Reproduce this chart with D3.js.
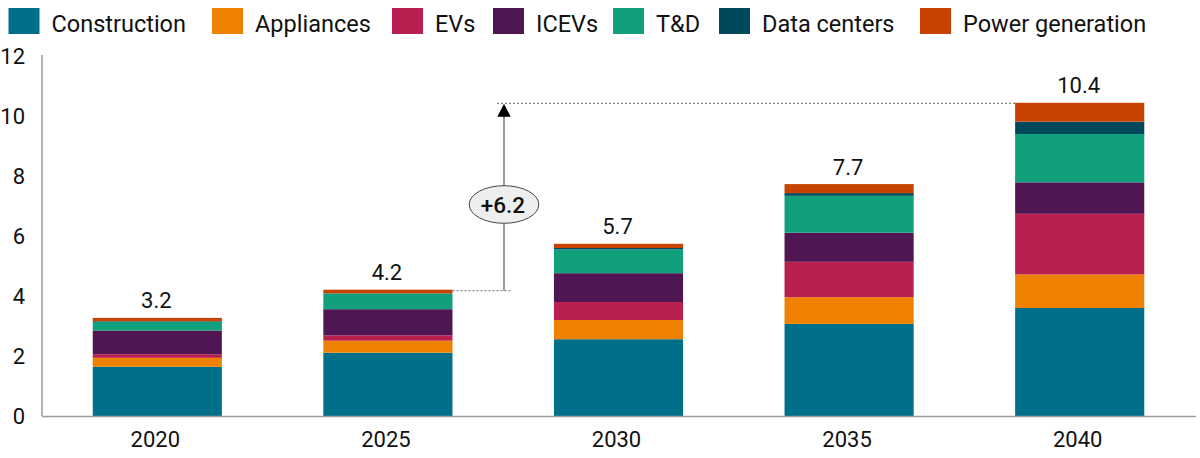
<!DOCTYPE html>
<html><head><meta charset="utf-8">
<script src="https://cdn.jsdelivr.net/npm/d3@7"></script>
<style>
html,body{margin:0;padding:0;background:#fff;}
svg{display:block;font-family:Roboto,"Liberation Sans",sans-serif;}
</style></head>
<body>
<svg id="chart" width="1200" height="458"></svg>
<script>
const years = ["2020","2025","2030","2035","2040"];
const seriesNames = ["Construction","Appliances","EVs","ICEVs","T&D","Data centers","Power generation"];
const seriesColors = ["#00708a","#ee8200","#b92050","#501654","#10a07b","#00495d","#c84300"];
const construction = [1.64, 2.11, 2.56, 3.07, 3.60];
const appliances   = [0.30, 0.40, 0.64, 0.89, 1.12];
const evs          = [0.12, 0.18, 0.60, 1.18, 2.02];
const icevs        = [0.79, 0.87, 0.96, 0.97, 1.05];
const td           = [0.29, 0.52, 0.79, 1.23, 1.61];
const dataCenters  = [0.02, 0.01, 0.05, 0.09, 0.41];
const powerGen     = [0.11, 0.12, 0.14, 0.30, 0.63];
const totalLabels  = ["3.2","4.2","5.7","7.7","10.4"];
const yTicks = [0,2,4,6,8,10,12];
const changeLabel = "+6.2";

const seriesValues = [construction, appliances, evs, icevs, td, dataCenters, powerGen];
const table = years.map((y,i)=>{
  const o = {year:y};
  seriesNames.forEach((s,j)=>o[s]=seriesValues[j][i]);
  return o;
});

const FONT = "Roboto, 'Liberation Sans', sans-serif";
const svg = d3.select("#chart");
const x = d3.scaleBand().domain(years).range([42,1195]).paddingInner(0.44).paddingOuter(0.22);
const y = d3.scaleLinear().domain([0,12]).range([416,56]);

const stack = d3.stack().keys(seriesNames)(table);
const color = d3.scaleOrdinal().domain(seriesNames).range(seriesColors);

// bars
svg.append("g").selectAll("g").data(stack).join("g")
  .attr("fill", d=>color(d.key))
  .selectAll("rect").data(d=>d).join("rect")
  .attr("x", d=>x(d.data.year))
  .attr("width", x.bandwidth())
  .attr("y", d=>y(d[1]))
  .attr("height", d=>y(d[0])-y(d[1]));

// axes
const axisColor = "#9a9a9a";
svg.append("line").attr("x1",42).attr("x2",42).attr("y1",y(12)-1).attr("y2",y(0)).attr("stroke",axisColor).attr("stroke-width",1.5);
svg.append("line").attr("x1",42).attr("x2",1196).attr("y1",y(0)+0.5).attr("y2",y(0)+0.5).attr("stroke",axisColor).attr("stroke-width",1.5);

const yAxis = d3.axisLeft(y).tickValues(yTicks).tickSize(0).tickPadding(0).tickFormat(d3.format("d"));
const gy = svg.append("g").attr("transform","translate(25,0)").call(yAxis);
gy.select(".domain").remove();
gy.selectAll("text").attr("font-size",22).attr("fill","#111").attr("font-family",FONT);

const xAxis = d3.axisBottom(x).tickSize(0).tickPadding(0);
const gx = svg.append("g").attr("transform","translate(-2,431.5)").call(xAxis);
gx.select(".domain").remove();
gx.selectAll("text").attr("font-size",22).attr("fill","#111").attr("font-family",FONT);

// totals
const totals = years.map((yr,i)=>d3.sum(seriesValues, s=>s[i]));
svg.append("g").selectAll("text").data(years).join("text")
  .attr("x", d=>x(d)+x.bandwidth()/2-1)
  .attr("y", (d,i)=>y(totals[i])-9.5)
  .attr("text-anchor","middle")
  .attr("font-size",22).attr("fill","#111")
  .text((d,i)=>totalLabels[i]);

// annotation
const i0 = 1, i1 = 4;
const arrowX = 504;
const yLow = y(totals[i0]), yHigh = y(totals[i1]);
svg.append("line").attr("x1",x(years[i0])+x.bandwidth()).attr("x2",arrowX+8)
  .attr("y1",yLow+1).attr("y2",yLow+1).attr("stroke","#666").attr("stroke-width",1).attr("stroke-dasharray","2,2");
svg.append("line").attr("x1",arrowX-7).attr("x2",x(years[i1]))
  .attr("y1",yHigh+0.5).attr("y2",yHigh+0.5).attr("stroke","#666").attr("stroke-width",1).attr("stroke-dasharray","2,2");
svg.append("line").attr("x1",arrowX).attr("x2",arrowX).attr("y1",yLow+1).attr("y2",yHigh+13)
  .attr("stroke","#9a9a9a").attr("stroke-width",2);
svg.append("path").attr("d",`M${arrowX-6.7},${yHigh+14} L${arrowX+6.7},${yHigh+14} L${arrowX},${yHigh+1} Z`).attr("fill","#000");
const ey = 204.5;
svg.append("ellipse").attr("cx",arrowX).attr("cy",ey).attr("rx",34.8).attr("ry",18.8)
  .attr("fill","#eeeeee").attr("stroke","#444").attr("stroke-width",1);
svg.append("text").attr("x",arrowX-1).attr("y",ey+8.5).attr("text-anchor","middle")
  .attr("font-size",22.5).attr("font-weight",500).attr("fill","#111").text(changeLabel);

// legend (layout: swatch left edges)
const legendX = [8.5, 212, 392, 493, 613, 719, 920];
const lg = svg.append("g");
seriesNames.forEach((s,i)=>{
  const lx = legendX[i];
  lg.append("rect").attr("x",lx).attr("y",8).attr("width",31).attr("height",26).attr("fill",seriesColors[i]);
  lg.append("text").attr("x",lx+43).attr("y",32).attr("font-size",23.5).attr("fill","#111").text(s);
});
</script>
</body></html>
